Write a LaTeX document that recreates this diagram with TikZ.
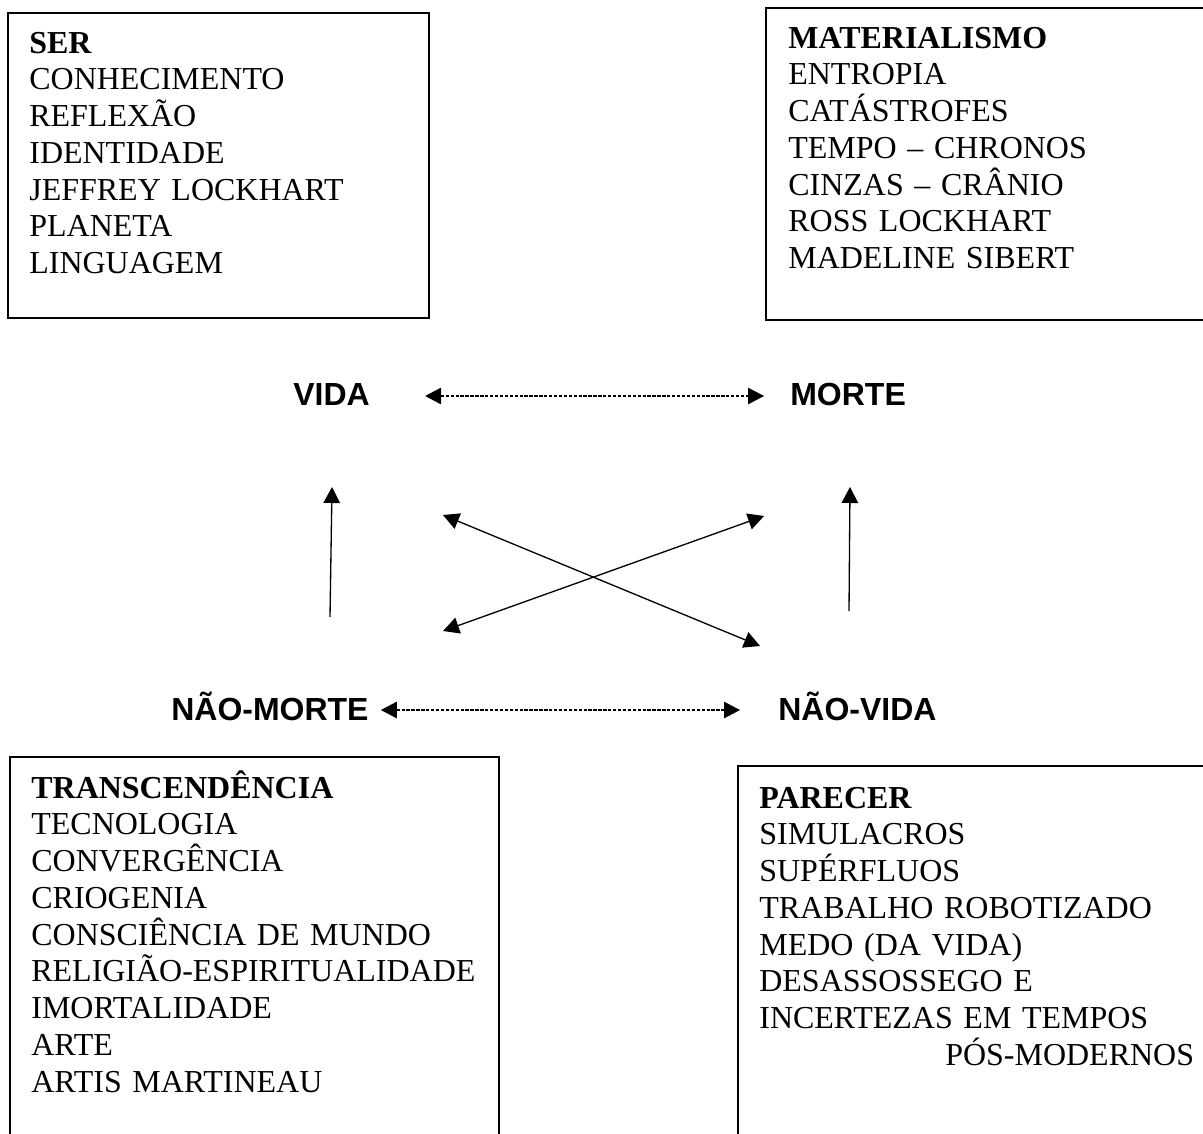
\documentclass[tikz,border=0pt]{standalone}
\usepackage{fontspec}
\setmainfont{Liberation Serif}
\newfontfamily\arialfont{Liberation Sans}
\usetikzlibrary{arrows.meta}

\tikzset{
  lista/.style={anchor=base west, inner sep=0pt, align=left, text width=10cm,
    font=\fontsize{18.2pt}{20.94pt}\selectfont},
  polo/.style={anchor=base west, inner sep=0pt, text height=0.46cm, text depth=0pt,
    font=\arialfont\bfseries\fontsize{18.2pt}{20.94pt}\selectfont},
  caixa/.style={line width=0.8pt},
  seta/.style={line width=0.75pt, ->},
  duplo/.style={line width=0.65pt, dash pattern=on 1.9pt off 0.9pt, <->},
}

\begin{document}
\begin{tikzpicture}[x=0.02cm,y=-0.02cm,>={Triangle[length=3.2mm,width=3.3mm]}]
    \useasboundingbox (0,0) rectangle (1203,1133);
    \clip (0,0) rectangle (1203,1133);
    % Boxes
    \draw[caixa] (8,13) rectangle (429,318);
    \draw[caixa] (766,8) rectangle (1230,320);
    \draw[caixa] (10,757) rectangle (499,1160);
    \draw[caixa] (738,766) rectangle (1230,1160);

    \node[lista] (ser) at (29,53) {\textbf{SER}\\CONHECIMENTO\\REFLEXÃO\\IDENTIDADE\\JEFFREY LOCKHART\\PLANETA\\LINGUAGEM};
    \node[lista] (materia) at (788,48) {\textbf{MATERIALISMO}\\ENTROPIA\\CATÁSTROFES\\TEMPO – CHRONOS\\CINZAS – CRÂNIO\\ROSS LOCKHART\\MADELINE SIBERT};
    \node[lista] (transc) at (31,798) {\textbf{TRANSCENDÊNCIA}\\TECNOLOGIA\\CONVERGÊNCIA\\CRIOGENIA\\CONSCIÊNCIA DE MUNDO\\RELIGIÃO-ESPIRITUALIDADE\\IMORTALIDADE\\ARTE\\ARTIS MARTINEAU};
    \node[lista] (parecer) at (759,808) {\textbf{PARECER}\\SIMULACROS\\SUPÉRFLUOS\\TRABALHO ROBOTIZADO\\MEDO (DA VIDA)\\DESASSOSSEGO E\\INCERTEZAS EM TEMPOS\\\hspace*{3.72cm}PÓS-MODERNOS};

    % Square
    \node[polo] (vida) at (293,405) {VIDA};
    \node[polo] (morte) at (790,405) {MORTE};
    \node[polo] (nmorte) at (171,720) {NÃO-MORTE};
    \node[polo] (nvida) at (778,720) {NÃO-VIDA};

    \draw[duplo] ([xshift=1.1cm,yshift=-0.05cm]vida.east) -- ([xshift=-0.52cm,yshift=-0.05cm]morte.west);
    \draw[duplo] ([xshift=0.24cm,yshift=-0.03cm]nmorte.east) -- ([xshift=-0.76cm,yshift=-0.03cm]nvida.west);

    \coordinate (a1) at (330,617);
    \coordinate (a2) at (332,487);
    \coordinate (b1) at (849,611);
    \coordinate (b2) at (850,487);
    \coordinate (c1) at (443,515);
    \coordinate (c2) at (760,646);
    \coordinate (d1) at (443,631);
    \coordinate (d2) at (764,516);
    \draw[seta] (a1) -- (a2);
    \draw[seta] (b1) -- (b2);
    \draw[seta,<->] (c1) -- (c2);
    \draw[seta,<->] (d1) -- (d2);
\end{tikzpicture}
\end{document}
